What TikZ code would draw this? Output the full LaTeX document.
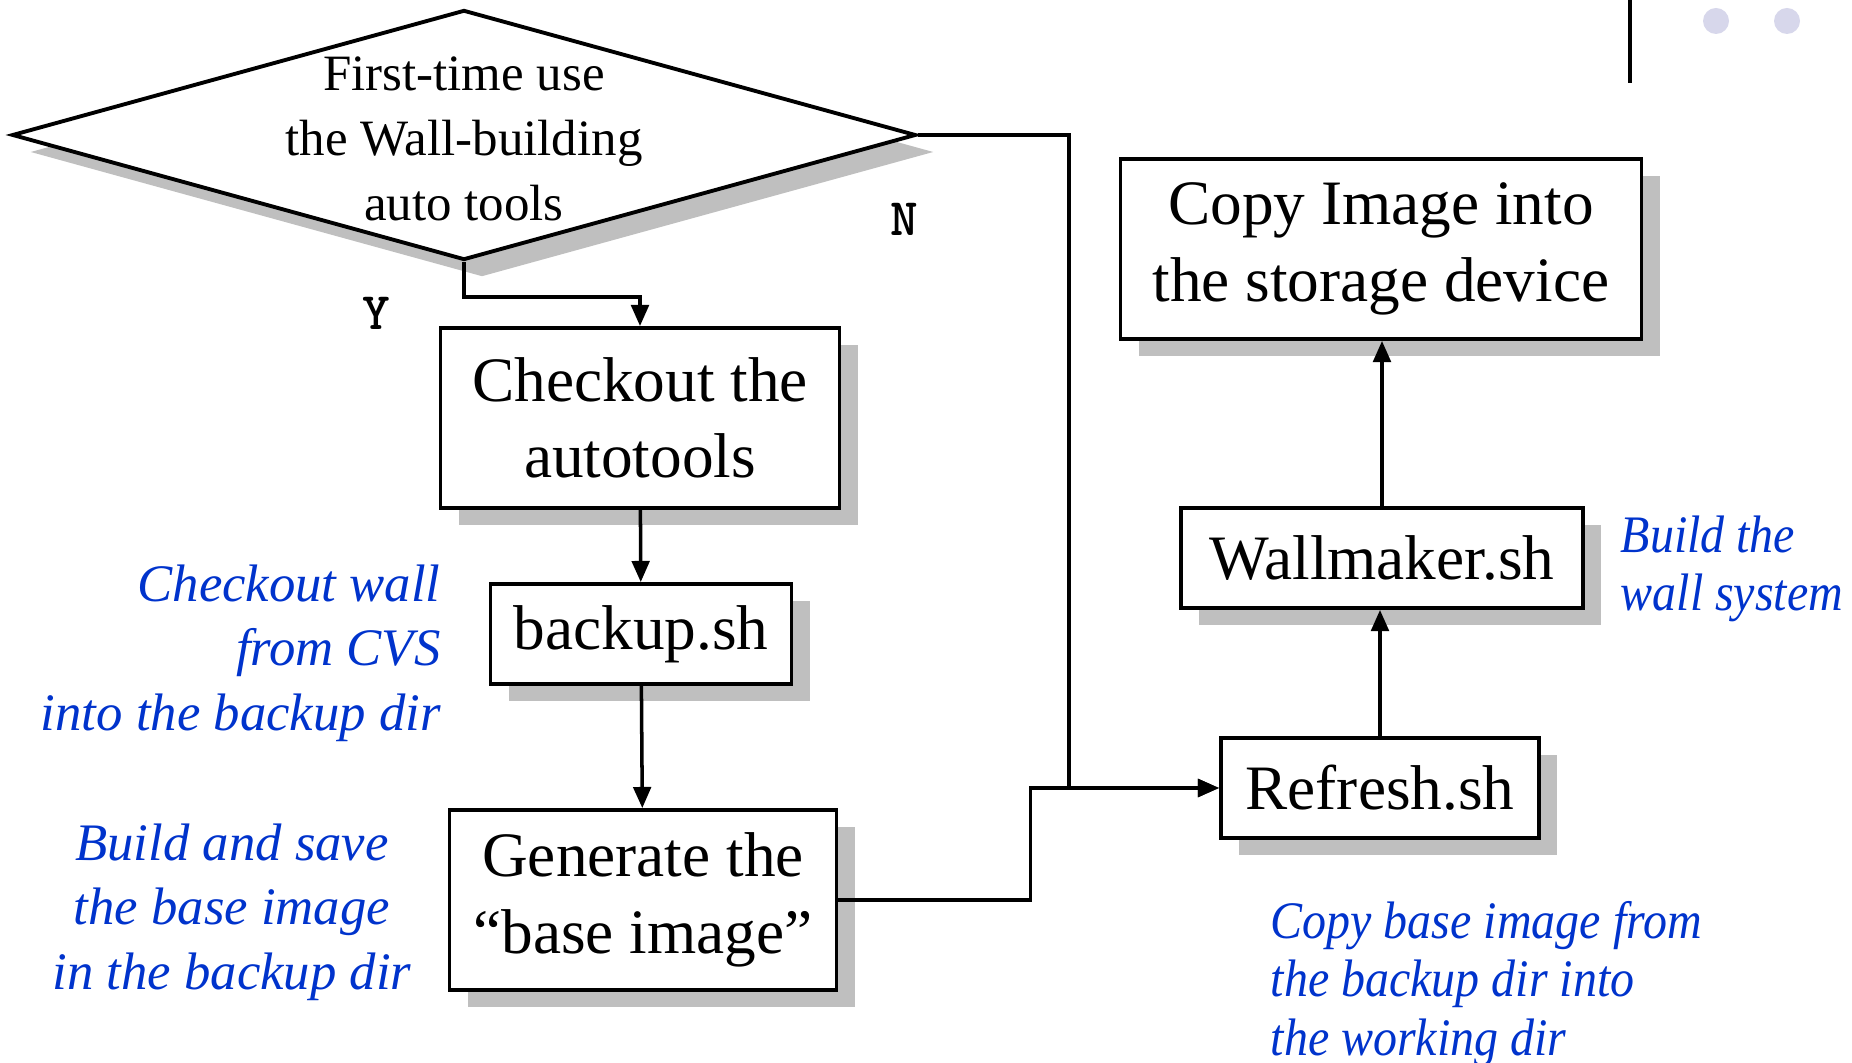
\documentclass[tikz,border=0pt]{standalone}
\usepackage{fontspec}
\setmainfont{Liberation Serif}
\newfontfamily\narrowit{Liberation Serif}[FakeStretch=0.91]
\usetikzlibrary{shapes.geometric,shadows,arrows.meta}
\definecolor{noteblue}{RGB}{0,51,204}
\definecolor{dotgray}{RGB}{215,215,235}
\begin{document}
\begin{tikzpicture}[x=1cm,y=1cm,
  shad/.style={drop shadow={shadow xshift=.18cm,shadow yshift=-.17cm,fill=black!25,opacity=1}},
  box/.style={draw,line width=1.1pt,fill=white,shad,inner sep=0pt,align=center,font=\fontsize{18}{21.8}\selectfont},
  yn/.style={font=\ttfamily\bfseries\fontsize{15}{15}\selectfont},
  note/.style={text=noteblue,font=\itshape\fontsize{15}{18.4}\selectfont},
  nnote/.style={text=noteblue,font=\narrowit\itshape\fontsize{15}{16.6}\selectfont,align=left,anchor=west,inner sep=0pt},
  arr/.style={line width=1pt,-{Triangle[length=6pt,width=5pt]}}]
\useasboundingbox(0,0)rectangle(18.52,-10.63);
% slide decoration
\draw[line width=1pt](16.30,0)--(16.30,-.83);
\fill[dotgray](17.16,-.21)circle(.13) (17.87,-.21)circle(.13);
% decision
\node[diamond,draw,line width=1.1pt,fill=white,shad,inner sep=0pt,shape aspect=3.6,minimum width=9.04cm,minimum height=2.5cm,font=\fontsize{14.5}{18.5}\selectfont](first)at(4.64,-1.35)
  {\smash{\raisebox{-.2cm}{\begin{tabular}{@{}c@{}}First-time use\\the Wall-building\\auto tools\end{tabular}}}};
\node[yn](yes)at(3.76,-3.13){Y};
\node[yn](no)at(9.04,-2.19){N};
% left column
\node[box,minimum width=3.99cm,minimum height=1.80cm](check)at(6.40,-4.18){Checkout the\\autotools};
\node[box,minimum width=3.01cm,minimum height=1.00cm](backup)at(6.41,-6.34){backup.sh};
\node[box,minimum width=3.87cm,minimum height=1.80cm](gen)at(6.43,-9.00){Generate the\\``base image''};
% right column
\node[box,minimum width=3.18cm,minimum height=1.00cm](refresh)at(13.80,-7.88){Refresh.sh};
\node[box,minimum width=4.02cm,minimum height=1.00cm](wall)at(13.82,-5.58){Wallmaker.sh};
\node[box,minimum width=5.21cm,minimum height=1.80cm](copy)at(13.81,-2.49){Copy Image into\\the storage device};
% notes
\node[note,align=right,anchor=east](cvs)at(4.53,-6.53){Checkout wall\\from CVS\\into the backup dir};
\node[note,align=center](save)at(2.32,-9.12){Build and save\\the base image\\in the backup dir};
\node[nnote](build)at(16.20,-5.69){Build the\\wall system};
\node[nnote](work)at(12.70,-9.84){Copy base image from\\the backup dir into\\the working dir};
% connectors
\draw[arr](first.south)--++(0,-.35)-|(check.north);
\draw[arr](check)--(backup);
\draw[arr](backup)--(gen);
\draw[arr](first.east)--++(1.51,0)|-(refresh.west);
\draw[arr](gen.east)--++(1.92,0)|-(refresh.west);
\draw[arr](refresh.north)--(refresh.north|-wall.south);
\draw[arr](wall.north)--(wall.north|-copy.south);
\end{tikzpicture}
\end{document}
